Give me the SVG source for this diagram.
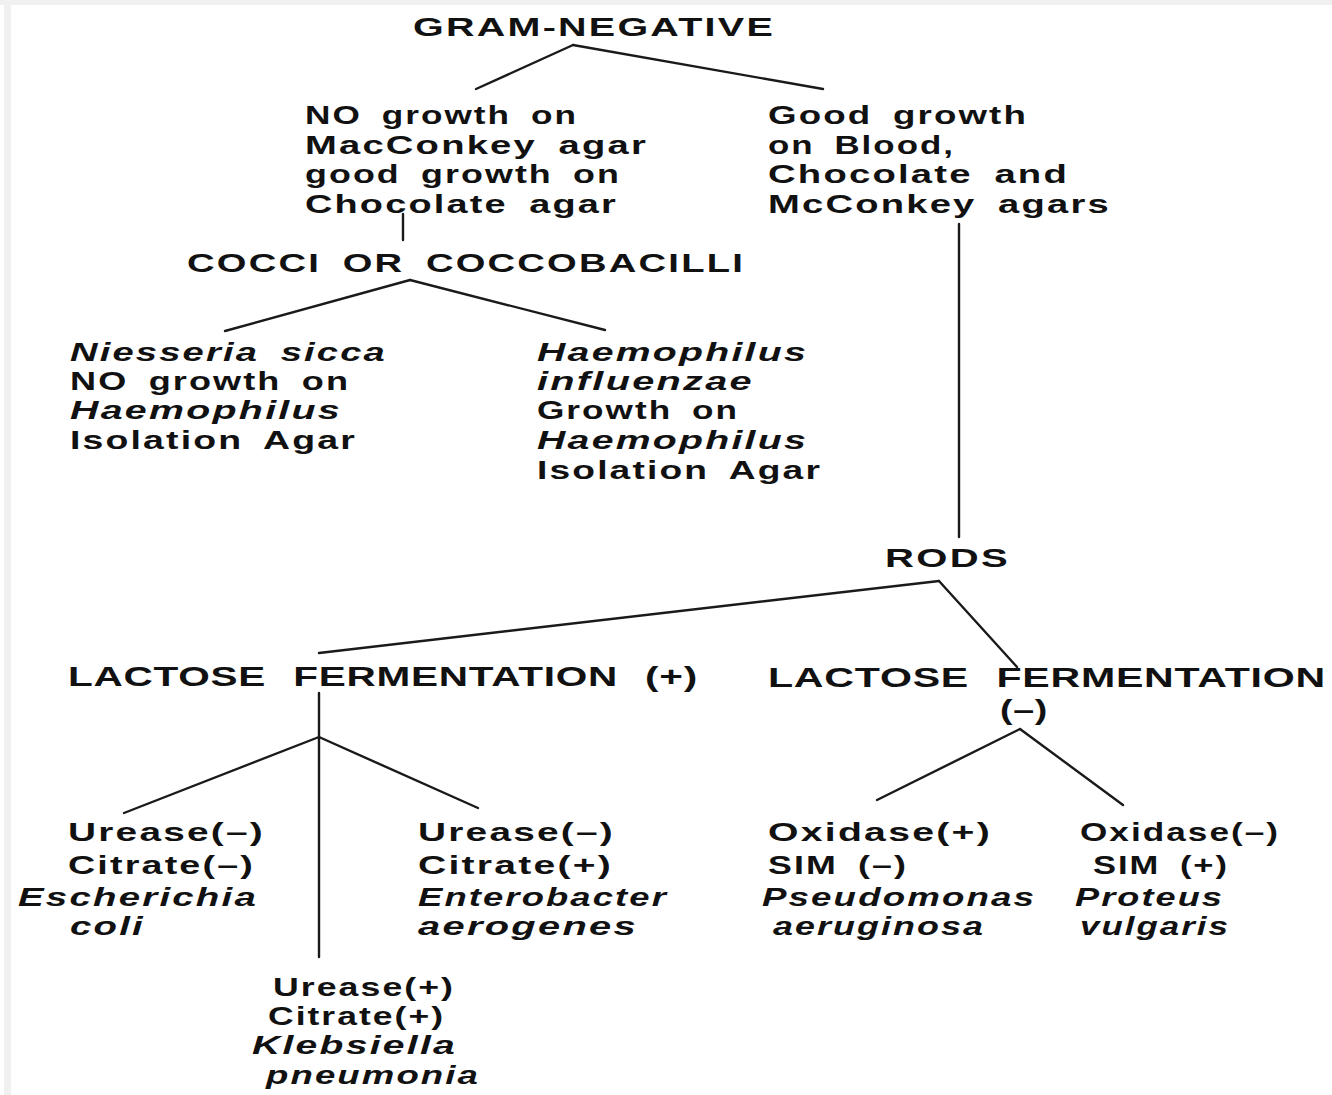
<svg xmlns="http://www.w3.org/2000/svg" width="1332" height="1095" viewBox="0 0 1332 1095">
<style>
text{font-family:"Liberation Sans",Arial,sans-serif;font-weight:bold;font-size:26px;fill:#111;letter-spacing:1.5px;word-spacing:6px}
.i{font-style:italic}
.l{font-size:27px;letter-spacing:0.5px;word-spacing:10px}
.c line{stroke:#1a1a1a;stroke-width:2.4;stroke-linecap:round}
</style>
<rect width="1332" height="1095" fill="#fff"/>
<rect x="0" y="0" width="1332" height="5" fill="#f0f0f0"/>
<rect x="4" y="0" width="7" height="1095" fill="#f0f0f0"/>
<g class="c" id="connectors">
<line x1="573" y1="45" x2="476" y2="89"/>
<line x1="573" y1="45" x2="823" y2="89"/>
<line x1="403" y1="214" x2="403" y2="240" stroke="#555"/>
<line x1="410" y1="280" x2="225" y2="331"/>
<line x1="410" y1="280" x2="605" y2="330"/>
<line x1="959" y1="224" x2="959" y2="537"/>
<line x1="939" y1="581" x2="319" y2="653"/>
<line x1="939" y1="581" x2="1017" y2="667"/>
<line x1="319" y1="693" x2="319" y2="957"/>
<line x1="319" y1="737" x2="124" y2="813"/>
<line x1="319" y1="737" x2="478" y2="808"/>
<line x1="1020" y1="729" x2="877" y2="800"/>
<line x1="1020" y1="729" x2="1123" y2="805"/>
</g>
<g id="gram-negative"><text x="413" y="36" textLength="362" lengthAdjust="spacingAndGlyphs">GRAM-NEGATIVE</text></g>
<g id="no-growth">
<text x="305" y="124" textLength="273" lengthAdjust="spacingAndGlyphs">NO growth on</text>
<text x="305" y="154" textLength="343" lengthAdjust="spacingAndGlyphs">MacConkey agar</text>
<text x="305" y="183" textLength="316" lengthAdjust="spacingAndGlyphs">good growth on</text>
<text x="305" y="213" textLength="313" lengthAdjust="spacingAndGlyphs">Chocolate agar</text>
</g>
<g id="good-growth">
<text x="768" y="124" textLength="260" lengthAdjust="spacingAndGlyphs">Good growth</text>
<text x="768" y="154" textLength="187" lengthAdjust="spacingAndGlyphs">on Blood,</text>
<text x="768" y="183" textLength="301" lengthAdjust="spacingAndGlyphs">Chocolate and</text>
<text x="768" y="213" textLength="343" lengthAdjust="spacingAndGlyphs">McConkey agars</text>
</g>
<g id="cocci"><text x="187" y="272" textLength="558" lengthAdjust="spacingAndGlyphs">COCCI OR COCCOBACILLI</text></g>
<g id="niesseria">
<text class="i" x="70" y="361" textLength="317" lengthAdjust="spacingAndGlyphs">Niesseria sicca</text>
<text x="70" y="390" textLength="280" lengthAdjust="spacingAndGlyphs">NO growth on</text>
<text class="i" x="70" y="419" textLength="272" lengthAdjust="spacingAndGlyphs">Haemophilus</text>
<text x="70" y="449" textLength="287" lengthAdjust="spacingAndGlyphs">Isolation Agar</text>
</g>
<g id="haemophilus">
<text class="i" x="537" y="361" textLength="271" lengthAdjust="spacingAndGlyphs">Haemophilus</text>
<text class="i" x="537" y="390" textLength="217" lengthAdjust="spacingAndGlyphs">influenzae</text>
<text x="537" y="419" textLength="202" lengthAdjust="spacingAndGlyphs">Growth on</text>
<text class="i" x="537" y="449" textLength="271" lengthAdjust="spacingAndGlyphs">Haemophilus</text>
<text x="537" y="479" textLength="285" lengthAdjust="spacingAndGlyphs">Isolation Agar</text>
</g>
<g id="rods"><text x="885" y="567" textLength="125" lengthAdjust="spacingAndGlyphs">RODS</text></g>
<g id="lactose-pos"><text class="l" x="68" y="686" textLength="630" lengthAdjust="spacingAndGlyphs">LACTOSE FERMENTATION (+)</text></g>
<g id="lactose-neg">
<text class="l" x="768" y="687" textLength="558" lengthAdjust="spacingAndGlyphs">LACTOSE FERMENTATION</text>
<text class="l" x="1000" y="719" textLength="48" lengthAdjust="spacingAndGlyphs">(–)</text>
</g>
<g id="ecoli">
<text x="68" y="841" textLength="197" lengthAdjust="spacingAndGlyphs">Urease(–)</text>
<text x="68" y="874" textLength="187" lengthAdjust="spacingAndGlyphs">Citrate(–)</text>
<text class="i" x="18" y="906" textLength="240" lengthAdjust="spacingAndGlyphs">Escherichia</text>
<text class="i" x="70" y="935" textLength="75" lengthAdjust="spacingAndGlyphs">coli</text>
</g>
<g id="enterobacter">
<text x="418" y="841" textLength="197" lengthAdjust="spacingAndGlyphs">Urease(–)</text>
<text x="418" y="874" textLength="195" lengthAdjust="spacingAndGlyphs">Citrate(+)</text>
<text class="i" x="418" y="906" textLength="250" lengthAdjust="spacingAndGlyphs">Enterobacter</text>
<text class="i" x="418" y="935" textLength="220" lengthAdjust="spacingAndGlyphs">aerogenes</text>
</g>
<g id="klebsiella">
<text x="273" y="996" textLength="182" lengthAdjust="spacingAndGlyphs">Urease(+)</text>
<text x="268" y="1025" textLength="177" lengthAdjust="spacingAndGlyphs">Citrate(+)</text>
<text class="i" x="252" y="1054" textLength="205" lengthAdjust="spacingAndGlyphs">Klebsiella</text>
<text class="i" x="266" y="1084" textLength="214" lengthAdjust="spacingAndGlyphs">pneumonia</text>
</g>
<g id="pseudomonas">
<text x="768" y="841" textLength="224" lengthAdjust="spacingAndGlyphs">Oxidase(+)</text>
<text x="768" y="874" textLength="140" lengthAdjust="spacingAndGlyphs">SIM (–)</text>
<text class="i" x="762" y="906" textLength="274" lengthAdjust="spacingAndGlyphs">Pseudomonas</text>
<text class="i" x="773" y="935" textLength="212" lengthAdjust="spacingAndGlyphs">aeruginosa</text>
</g>
<g id="proteus">
<text x="1080" y="841" textLength="200" lengthAdjust="spacingAndGlyphs">Oxidase(–)</text>
<text x="1093" y="874" textLength="136" lengthAdjust="spacingAndGlyphs">SIM (+)</text>
<text class="i" x="1075" y="906" textLength="149" lengthAdjust="spacingAndGlyphs">Proteus</text>
<text class="i" x="1080" y="935" textLength="150" lengthAdjust="spacingAndGlyphs">vulgaris</text>
</g>
</svg>
